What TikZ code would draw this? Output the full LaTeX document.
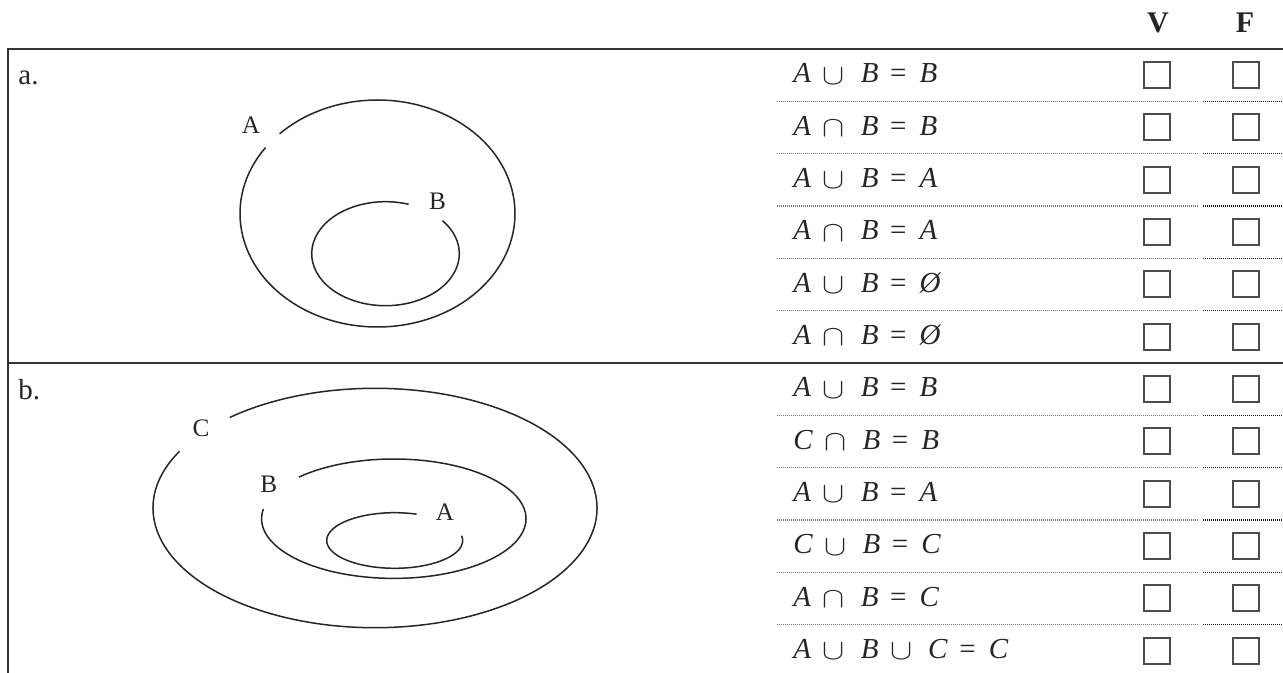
\documentclass[tikz,border=0pt]{standalone}
\usepackage{fontspec}
\usepackage{graphicx}
\setmainfont{Liberation Serif}
\newcommand\setv[1]{\textit{#1}}
\newcommand\cupop{\hspace{0.4em}\raisebox{-0.6pt}{\scalebox{1.15}[1.0]{$\cup$}}\hspace{0.55em}}
\newcommand\capop{\hspace{0.4em}\raisebox{-0.6pt}{\scalebox{1.15}[1.0]{$\cap$}}\hspace{0.55em}}
\newcommand\eqop{\hspace{0.4em}=\hspace{0.45em}}
\newcommand\noset{\textit{Ø}}
\begin{document}
\begin{tikzpicture}[x=0.5pt, y=0.5pt,
    rule/.style={line width=1.2pt, black!80},
    dotrule/.style={line width=0.6pt, black!55, dash pattern=on 0.5pt off 0.5pt},
    dotdark/.style={line width=0.6pt, black!90, dash pattern=on 0.5pt off 0.5pt},
    curve/.style={line width=0.75pt, black!85},
    setlabel/.style={inner sep=0pt, text=black!85, font=\fontsize{12.6pt}{14pt}\selectfont},
    rowlabel/.style={inner sep=0pt, anchor=base west, text=black!85, font=\fontsize{14.5pt}{16pt}\selectfont},
    formula/.style={inner sep=0pt, anchor=base west, text=black!85, font=\fontsize{14.5pt}{17pt}\selectfont},
    colhead/.style={inner sep=0pt, anchor=base, text=black!85, font=\fontsize{15pt}{17pt}\selectfont\bfseries},
    chkbox/.style={draw=black!70, line width=0.9pt, minimum size=13pt, inner sep=0pt}]
    \useasboundingbox (0,0) rectangle (1283,673);

    % Column heads
    \node[colhead] (hv) at (1158,640) {V};
    \node[colhead] (hf) at (1245,640) {F};

    % Frame
    \draw[rule] (8,0) -- (8,624) -- (1283,624);
    \draw[rule] (8,310) -- (1283,310);

    % Row rules
    \foreach \k in {1,...,5,7,8,...,11} {
        \draw[dotrule] (777,624-52.33*\k) -- (1199,624-52.33*\k);
        \draw[dotdark] (1203,624-52.33*\k) -- (1283,624-52.33*\k);
    }

    % Statements and boxes
    \foreach \eq [count=\k from 0] in {
        {\setv{A}\cupop\setv{B}\eqop\setv{B}},
        {\setv{A}\capop\setv{B}\eqop\setv{B}},
        {\setv{A}\cupop\setv{B}\eqop\setv{A}},
        {\setv{A}\capop\setv{B}\eqop\setv{A}},
        {\setv{A}\cupop\setv{B}\eqop\noset},
        {\setv{A}\capop\setv{B}\eqop\noset},
        {\setv{A}\cupop\setv{B}\eqop\setv{B}},
        {\setv{C}\capop\setv{B}\eqop\setv{B}},
        {\setv{A}\cupop\setv{B}\eqop\setv{A}},
        {\setv{C}\cupop\setv{B}\eqop\setv{C}},
        {\setv{A}\capop\setv{B}\eqop\setv{C}},
        {\setv{A}\cupop\setv{B}\cupop\setv{C}\eqop\setv{C}}} {
        \node[formula] (eq\k) at (793,590-52.33*\k) {\eq};
        \node[chkbox] (bv\k) at (1157,598-52.33*\k) {};
        \node[chkbox] (bf\k) at (1246,598-52.33*\k) {};
    }

    % Part a
    \node[rowlabel] (parta) at (18,588) {a.};
    \draw[curve] (377.5,459.5) ++(144.5:137.5 and 113.5)
        arc[start angle=144.5, end angle=495.4, x radius=137.5, y radius=113.5];
    \draw[curve] (385.5,419.3) ++(71.7:73.8 and 52)
        arc[start angle=71.7, end angle=399.5, x radius=73.8, y radius=52];
    \node[setlabel] (aA) at (251,548) {A};
    \node[setlabel] (aB) at (437.5,471.3) {B};

    % Part b
    \node[rowlabel] (partb) at (18,273) {b.};
    \draw[curve] (375,165) ++(151.7:222 and 119.7)
        arc[start angle=151.7, end angle=490.9, x radius=222, y radius=119.7];
    \draw[curve] (393.8,154.3) ++(170.6:132.2 and 59.7)
        arc[start angle=170.6, end angle=495.8, x radius=132.2, y radius=59.7];
    \draw[curve] (394.7,132.5) ++(71.2:68 and 27.8)
        arc[start angle=71.2, end angle=370, x radius=68, y radius=27.8];
    \node[setlabel] (bC) at (201,244.7) {C};
    \node[setlabel] (bB) at (268.7,189) {B};
    \node[setlabel] (bA) at (445,161.3) {A};
\end{tikzpicture}
\end{document}
